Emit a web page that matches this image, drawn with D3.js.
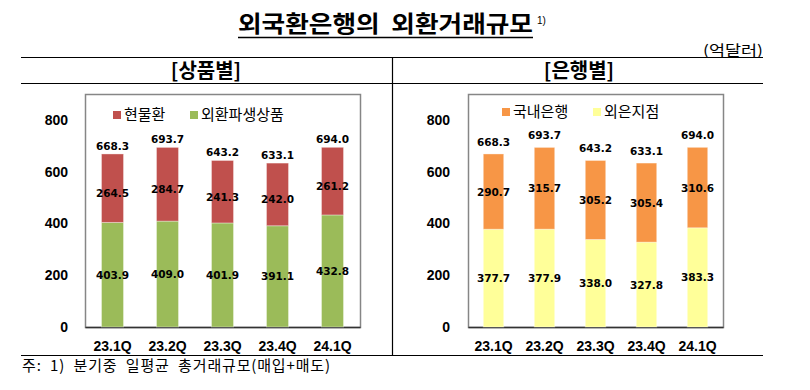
<!DOCTYPE html>
<html><head><meta charset="utf-8">
<script src="https://cdn.jsdelivr.net/npm/d3@7/dist/d3.min.js"></script>
<style>
html,body{margin:0;padding:0;background:#fff;}
svg{display:block;}
text{white-space:pre;}
</style></head>
<body>
<svg id="c" width="810" height="390"></svg>
<script>
const categories = ["23.1Q","23.2Q","23.3Q","23.4Q","24.1Q"];
const totals = [668.3, 693.7, 643.2, 633.1, 694.0];
// 상품별
const spotFx = [264.5, 284.7, 241.3, 242.0, 261.2];      // 현물환
const fxDerivatives = [403.9, 409.0, 401.9, 391.1, 432.8]; // 외환파생상품
// 은행별
const domesticBanks = [290.7, 315.7, 305.2, 305.4, 310.6]; // 국내은행
const foreignBranches = [377.7, 377.9, 338.0, 327.8, 383.3]; // 외은지점
const yTicks = [0, 200, 400, 600, 800];

const svg = d3.select("#c");
const KR = "'Noto Sans CJK KR','Noto Sans',sans-serif";
const NUM = "'Liberation Sans',Arial,sans-serif";
const LBL = "'DejaVu Sans',Verdana,sans-serif";

// Title
svg.append("text").attr("x", 238).attr("y", 32)
  .style("font-family", KR).style("font-weight","bold").style("font-size","23px")
  .attr("textLength", 295).attr("lengthAdjust","spacingAndGlyphs")
  .text("외국환은행의  외환거래규모");
svg.append("line").attr("x1",238).attr("x2",533).attr("y1",37.5).attr("y2",37.5)
  .attr("stroke","#000").attr("stroke-width",1.5);
svg.append("text").attr("x", 537).attr("y", 24)
  .style("font-family", NUM).style("font-size","10px").text("1)");

svg.append("text").attr("x", 703).attr("y", 55)
  .style("font-family", KR).style("font-size","14px")
  .attr("textLength", 60).attr("lengthAdjust","spacingAndGlyphs").text("(억달러)");

// frame lines
const hl = (y, x1, x2) => svg.append("line").attr("x1",x1).attr("x2",x2).attr("y1",y).attr("y2",y).attr("stroke","#000").attr("stroke-width",1.2);
hl(57.5, 21, 763);
hl(83.5, 21, 763);
hl(355.5, 21, 763);
svg.append("line").attr("x1",392.5).attr("x2",392.5).attr("y1",57).attr("y2",355).attr("stroke","#000").attr("stroke-width",1.2);

svg.append("text").attr("x", 206).attr("y", 78).attr("text-anchor","middle")
  .style("font-family", KR).style("font-weight","bold").style("font-size","20px").text("[상품별]");
svg.append("text").attr("x", 579).attr("y", 78).attr("text-anchor","middle")
  .style("font-family", KR).style("font-weight","bold").style("font-size","20px").text("[은행별]");

svg.append("text").attr("x", 22).attr("y", 371)
  .style("font-family", KR).style("font-size","15px")
  .attr("textLength", 308).attr("lengthAdjust","spacing")
  .text("주:  1)  분기중  일평균  총거래규모(매입+매도)");

function chart(opt) {
  const g = svg.append("g");
  const x = d3.scaleBand().domain(categories).range([opt.x0, opt.x1]).paddingInner(0.6).paddingOuter(0.3);
  const y = d3.scaleLinear().domain([0, 900]).range([327, 94]);

  // plot box
  g.append("rect").attr("x", opt.x0 + 0.5).attr("y", 94.5).attr("width", opt.x1 - opt.x0).attr("height", 327 - 94)
    .attr("fill","none").attr("stroke","#868686").attr("stroke-width",1.5);

  // y axis labels
  const ya = d3.axisLeft(y).tickValues(yTicks).tickSize(0).tickPadding(opt.x0 - opt.labelRight);
  const yg = g.append("g").attr("transform", `translate(${opt.x0},0)`).call(ya);
  yg.select(".domain").remove();
  yg.selectAll("text").style("font-family", NUM).style("font-weight","bold").style("font-size","14px").attr("fill","#000");

  // x axis labels
  const xa = d3.axisBottom(x).tickSize(0).tickPadding(14);
  const xg = g.append("g").attr("transform", `translate(0,327)`).call(xa);
  xg.select(".domain").attr("stroke","#333").attr("stroke-width",1.5);
  xg.selectAll("text").style("font-family", NUM).style("font-weight","bold").style("font-size","14px").attr("fill","#000");

  const rows = categories.map((c, i) => ({c, lo: opt.bottom[i], hi: opt.top[i], total: totals[i]}));
  // bottom segment
  g.selectAll(".b").data(rows).join("rect")
    .attr("x", d => x(d.c)).attr("width", x.bandwidth())
    .attr("y", d => y(d.lo)).attr("height", d => y(0) - y(d.lo))
    .attr("fill", opt.colBottom).attr("stroke","rgba(255,255,255,0.35)").attr("stroke-width",1);
  // top segment
  g.selectAll(".t").data(rows).join("rect")
    .attr("x", d => x(d.c)).attr("width", x.bandwidth())
    .attr("y", d => y(d.lo + d.hi)).attr("height", d => y(d.lo) - y(d.lo + d.hi))
    .attr("fill", opt.colTop).attr("stroke","rgba(255,255,255,0.35)").attr("stroke-width",1);

  const lab = (sel) => sel.attr("text-anchor","middle").style("font-family", LBL).style("font-weight","bold").style("font-size","10.5px").attr("fill","#000");
  g.selectAll(".lb").data(rows).join("text").call(lab)
    .attr("x", d => x(d.c) + x.bandwidth()/2).attr("y", d => y(d.lo/2)).attr("dy", "0.38em")
    .text(d => d.lo.toFixed(1));
  g.selectAll(".lt").data(rows).join("text").call(lab)
    .attr("x", d => x(d.c) + x.bandwidth()/2).attr("y", d => y(d.lo + d.hi/2) + opt.topLabelShift).attr("dy", "0.38em")
    .text(d => d.hi.toFixed(1));
  g.selectAll(".ls").data(rows).join("text").call(lab)
    .attr("x", d => x(d.c) + x.bandwidth()/2).attr("y", d => y(d.lo + d.hi) - opt.totalGap)
    .text(d => d.total.toFixed(1));

  // legend
  opt.legend.forEach(L => {
    g.append("rect").attr("x", L.x).attr("y", opt.legendY - 4).attr("width", 8).attr("height", 8).attr("fill", L.color);
    g.append("text").attr("x", L.x + 11).attr("y", opt.legendY).attr("dy","0.35em")
      .style("font-family", KR).style("font-size","15px").attr("fill","#000").text(L.name);
  });
}

chart({x0: 85, x1: 360, labelRight: 68, bottom: fxDerivatives, top: spotFx,
  colBottom: "#9BBB59", colTop: "#C0504D", topLabelShift: 5, totalGap: 4, legendY: 115,
  legend: [{x: 113, name: "현물환", color: "#C0504D"}, {x: 190, name: "외환파생상품", color: "#9BBB59"}]});
chart({x0: 468, x1: 723, labelRight: 450, bottom: foreignBranches, top: domesticBanks,
  colBottom: "#FFFF99", colTop: "#F79646", topLabelShift: 0, totalGap: 8, legendY: 112,
  legend: [{x: 502, name: "국내은행", color: "#F79646"}, {x: 593, name: "외은지점", color: "#FFFF99"}]});
</script>
</body></html>
